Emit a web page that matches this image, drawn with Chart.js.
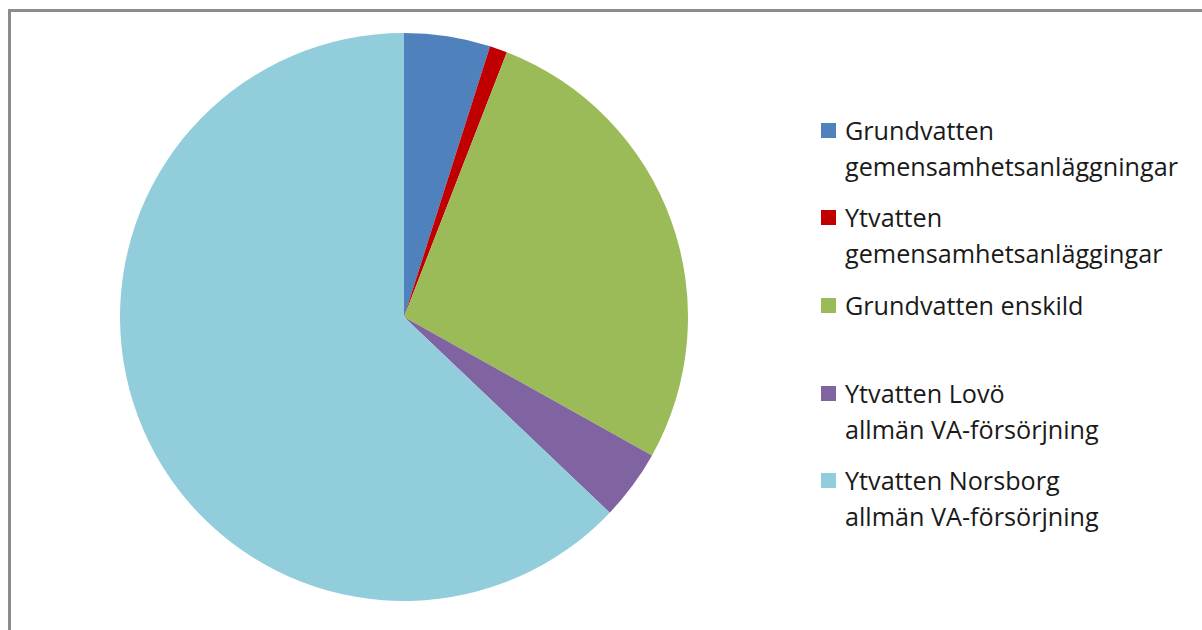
<!DOCTYPE html>
<html>
<head>
<meta charset="utf-8">
<script src="https://cdn.jsdelivr.net/npm/chart.js@4/dist/chart.umd.min.js"></script>
<style>
  html, body { margin: 0; padding: 0; background: #fff; }
  body { width: 1202px; height: 630px; position: relative; overflow: hidden; }
  #frame {
    position: absolute; left: 8px; top: 9px; width: 1300px; height: 700px;
    border-top: 3px solid #8c8c8c; border-left: 3px solid #8c8c8c;
  }
  #wrap { position: absolute; left: 120px; top: 33px; width: 568px; height: 568px; }
  #legend { position: absolute; left: 821px; top: 0; font-family: "Open Sans", sans-serif; font-size: 25.2px; color: #1a1a1a; }
  .item { position: absolute; left: 0; white-space: nowrap; line-height: 36px; }
  .box { position: absolute; left: 0; top: 11px; width: 15px; height: 15px; }
  .txt { position: absolute; left: 24px; top: 0; }
</style>
</head>
<body>
<div id="frame"></div>
<div id="wrap"><canvas id="graph" width="568" height="568"></canvas></div>
<div id="legend"></div>
<script>
var labels = [
  ["Grundvatten", "gemensamhetsanläggningar"],
  ["Ytvatten", "gemensamhetsanläggingar"],
  ["Grundvatten enskild"],
  ["Ytvatten Lovö", "allmän VA-försörjning"],
  ["Ytvatten Norsborg", "allmän VA-försörjning"]
];
var values = [4.9, 1.0, 27.2, 4.0, 62.9];
var colors = ["#4f81bd", "#c00000", "#9bbb59", "#8064a2", "#92cddc"];

// legend tops (px)
var legendTops = [112, 199, 287, 375, 462];

var legend = document.getElementById("legend");
for (var i = 0; i < labels.length; i++) {
  var item = document.createElement("div");
  item.className = "item";
  item.style.top = legendTops[i] + "px";
  item.innerHTML = '<div class="box" style="background:' + colors[i] + '"></div>' +
    '<div class="txt">' + labels[i].join("<br>") + '</div>';
  legend.appendChild(item);
}

var ctx = document.getElementById("graph").getContext("2d");
var chart = new Chart(ctx, {
  type: "pie",
  data: {
    labels: labels.map(function (l) { return l.join(" "); }),
    datasets: [
      {
        data: values,
        backgroundColor: colors,
        borderWidth: 0,
        hoverOffset: 0
      }
    ]
  },
  options: {
    responsive: false,
    animation: false,
    layout: { padding: 0 },
    plugins: {
      legend: { display: false },
      tooltip: { enabled: false }
    }
  }
});
</script>
</body>
</html>
